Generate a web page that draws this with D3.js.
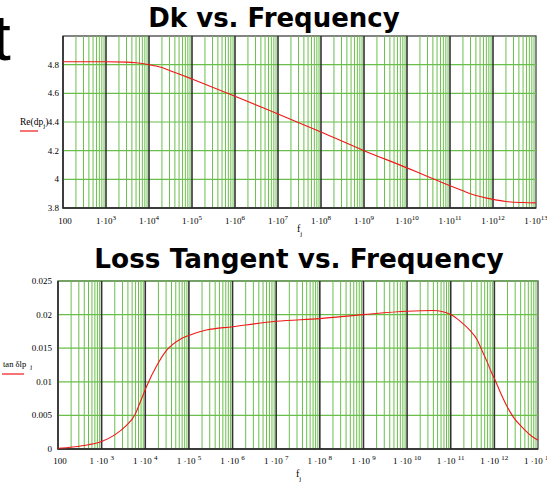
<!DOCTYPE html>
<meta charset="utf-8">
<script src="https://d3js.org/d3.v7.min.js"></script>
<style>
  body { margin: 0; background: #fff; }
  text { font-family: "Liberation Serif", "Times New Roman", serif; }
</style>
<div id="chart"></div>
<script>
  // ---- data ----
  const dkFreq = [1e2, 3e2, 1e3, 3e3, 5e3, 1e4, 2e4, 3e4, 5e4, 1e5, 1e6, 1e7, 1e8, 1e9, 1e10, 3e10, 1e11, 2e11, 3e11, 5e11, 1e12, 2e12, 5e12, 1e13];
  const dkValue = [4.82, 4.82, 4.82, 4.818, 4.813, 4.80, 4.78, 4.76, 4.735, 4.70, 4.58, 4.455, 4.33, 4.20, 4.08, 4.02, 3.955, 3.92, 3.90, 3.88, 3.86, 3.845, 3.838, 3.836];

  const lossFreq = [1e2, 2.2e2, 5e2, 1e3, 2e3, 3.7e3, 5.8e3, 8e3, 1.07e4, 1.8e4, 3.1e4, 6.2e4, 1e5, 2.5e5, 1e6, 1e7, 1e8, 1e9, 1e10, 4e10, 1e11, 1.66e11, 2.8e11, 4e11, 5.1e11, 6.8e11, 8.7e11, 1e12, 1.4e12, 2e12, 2.75e12, 4.7e12, 7.2e12, 1e13];
  const lossValue = [0.0001, 0.0003, 0.00064, 0.00113, 0.0021, 0.0035, 0.0051, 0.0073, 0.0093, 0.0123, 0.0147, 0.0163, 0.0169, 0.0177, 0.0182, 0.0190, 0.0194, 0.0200, 0.0205, 0.0206, 0.0200, 0.0190, 0.0176, 0.0163, 0.0148, 0.0130, 0.0113, 0.0105, 0.0083, 0.0062, 0.0047, 0.0030, 0.0019, 0.0013];

  const decadeExp = d3.range(2, 14); // 100 .. 1e13
  const dkTicks = [3.8, 4, 4.2, 4.4, 4.6, 4.8];
  const dkTickLabels = ["3.8", "4", "4.2", "4.4", "4.6", "4.8"];
  const lossTicks = [0, 0.005, 0.01, 0.015, 0.02, 0.025];
  const lossTickLabels = ["0", "0.005", "0.01", "0.015", "0.02", "0.025"];

  const W = 547, H = 483;
  const svg = d3.select("#chart").append("svg")
    .attr("width", W).attr("height", H);

  // stray clipped glyph at top-left
  svg.append("text")
    .attr("x", -7).attr("y", 60)
    .style("font-family", "Liberation Sans, Arial, sans-serif")
    .style("font-size", "64px")
    .text("t");

  function drawPanel(o) {
    const g = svg.append("g").attr("transform", `translate(${o.left},${o.top})`);
    const x = d3.scaleLog().domain([1e2, 1e13]).range([0, o.width]);
    const y = d3.scaleLinear().domain(o.yDomain).range([o.height, 0]);

    // frame
    g.append("rect")
      .attr("width", o.width).attr("height", o.height)
      .attr("fill", "none").attr("stroke", "#333").attr("stroke-width", 1.2);

    // minor vertical grid
    const minors = [];
    decadeExp.slice(0, -1).forEach(e => {
      for (let m = 2; m <= 9; m++) minors.push(m * Math.pow(10, e));
    });
    g.selectAll(".minor").data(minors).join("line")
      .attr("x1", d => x(d)).attr("x2", d => x(d))
      .attr("y1", 0).attr("y2", o.height)
      .attr("stroke", "#6abf4b").attr("stroke-width", 1);

    // horizontal grid
    g.selectAll(".hgrid").data(o.ticks.filter(t => t !== o.yDomain[0])).join("line")
      .attr("x1", 0).attr("x2", o.width)
      .attr("y1", d => y(d)).attr("y2", d => y(d))
      .attr("stroke", "#6abf4b").attr("stroke-width", 1.2);

    // decade lines
    g.selectAll(".decade").data(decadeExp.slice(1, -1)).join("line")
      .attr("x1", d => x(Math.pow(10, d))).attr("x2", d => x(Math.pow(10, d)))
      .attr("y1", 0).attr("y2", o.height)
      .attr("stroke", "#333").attr("stroke-width", 1.6);

    // left + bottom border on top
    g.append("path")
      .attr("d", `M0,0V${o.height}H${o.width}`)
      .attr("fill", "none").attr("stroke", "#222").attr("stroke-width", 1.4);

    // curve
    const pts = o.freq.map((f, i) => [f, o.values[i]]);
    g.append("path")
      .datum(pts)
      .attr("fill", "none")
      .attr("stroke", "#f01818")
      .attr("stroke-width", 1.1)
      .attr("d", d3.line().curve(d3.curveMonotoneX)
        .x(d => x(d[0])).y(d => y(d[1])));

    // y tick labels
    g.selectAll(".ylab").data(o.ticks).join("text")
      .attr("x", -o.yLabelGap).attr("y", d => y(d) + 3)
      .attr("text-anchor", "end")
      .style("font-size", "9px")
      .text((d, i) => o.tickLabels[i]);

    // x tick labels
    const xl = g.selectAll(".xlab").data(decadeExp).join("text")
      .attr("x", d => x(Math.pow(10, d)) + (d === 2 ? 2 : 0))
      .attr("y", o.height + o.xLabelDy)
      .attr("text-anchor", "middle")
      .style("font-size", "9px");
    xl.each(function (d) {
      const t = d3.select(this);
      if (d === 2) { t.text("100"); return; }
      t.append("tspan").text(o.spaced ? "1 \u00b710 " : "1\u00b710");
      t.append("tspan").attr("dy", -4).style("font-size", "7px").text(d);
    });

    return g;
  }

  // ---- top panel: Dk ----
  const dkPanel = drawPanel({
    left: 63, top: 36, width: 473, height: 172,
    yDomain: [3.8, 5.0], ticks: dkTicks, tickLabels: dkTickLabels,
    freq: dkFreq, values: dkValue, yLabelGap: 4, xLabelDy: 16, spaced: false
  });

  // ---- bottom panel: loss tangent ----
  const lossPanel = drawPanel({
    left: 58, top: 281, width: 480, height: 168,
    yDomain: [0, 0.025], ticks: lossTicks, tickLabels: lossTickLabels,
    freq: lossFreq, values: lossValue, yLabelGap: 6, xLabelDy: 15, spaced: true
  });

  // titles
  svg.append("text")
    .attr("x", 274).attr("y", 27)
    .attr("text-anchor", "middle")
    .style("font-family", "DejaVu Sans, Verdana, sans-serif")
    .style("font-weight", "bold").style("font-size", "26px")
    .text("Dk vs. Frequency");
  svg.append("text")
    .attr("x", 299).attr("y", 268)
    .attr("text-anchor", "middle")
    .style("font-family", "DejaVu Sans, Verdana, sans-serif")
    .style("font-weight", "bold").style("font-size", "26.3px")
    .text("Loss Tangent vs. Frequency");

  // x axis names
  [[297, 232], [296, 477]].forEach(p => {
    const t = svg.append("text").attr("x", p[0]).attr("y", p[1]).style("font-size", "10px");
    t.append("tspan").text("f");
    t.append("tspan").attr("dy", 4).style("font-size", "7px").text("j");
  });

  // y axis names with red legend strokes
  const yl1 = svg.append("text").attr("x", 20).attr("y", 125).style("font-size", "9.5px");
  yl1.append("tspan").text("Re(dp");
  yl1.append("tspan").attr("dy", 3).style("font-size", "7px").text("j");
  yl1.append("tspan").attr("dy", -3).text(")");
  svg.append("line").attr("x1", 20).attr("x2", 38).attr("y1", 131).attr("y2", 131)
    .attr("stroke", "#f01818").attr("stroke-width", 1.2);

  const yl2 = svg.append("text").attr("x", 3).attr("y", 367).style("font-size", "8.5px");
  yl2.append("tspan").text("tan  \u03b4lp");
  yl2.append("tspan").attr("dx", 4).attr("dy", 2).style("font-size", "7px").text("j");
  svg.append("line").attr("x1", 2).attr("x2", 24).attr("y1", 374).attr("y2", 374)
    .attr("stroke", "#f01818").attr("stroke-width", 1.2);
</script>
